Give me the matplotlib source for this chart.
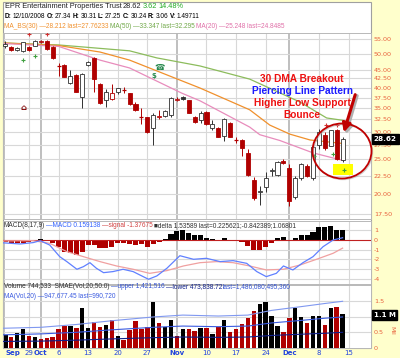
import matplotlib
matplotlib.use('Agg')
import matplotlib.pyplot as plt
from matplotlib.patches import Rectangle, Ellipse
from matplotlib import font_manager as fm

plt.rcParams['axes.unicode_minus'] = False

# ---------------- data ----------------
opens = [52.4, 52.3, 51.1, 50.8, 52.3, 52.7, 53.8, 54.4, 52.3, 46.3,
         46.4, 41.3, 43.4, 37.6, 46.3, 48.5, 40.9, 36.8, 37.2, 39.0,
         39.4, 38.5, 36.0, 33.1, 32.9, 30.7, 32.9, 33.2, 33.5, 36.9,
         37.6, 36.8, 33.0, 32.3, 34.2, 30.8, 30.75, 29.2, 31.8, 28.5,
         28.4, 26.1, 21.9, 20.2, 20.9, 23.2, 22.6, 24.8, 23.7, 19.6,
         22.1, 24.0, 22.1, 27.4, 29.4, 27.34, 30.3, 24.9]
highs = [54.2, 52.6, 52.3, 54.0, 52.5, 54.8, 54.5, 54.6, 52.4, 47.1,
         46.6, 44.9, 43.8, 44.0, 47.6, 49.0, 41.2, 39.7, 41.0, 39.9,
         40.3, 38.7, 36.5, 35.0, 33.0, 33.8, 34.5, 34.6, 37.6, 37.7,
         37.8, 37.0, 33.3, 34.3, 34.4, 32.4, 31.0, 32.8, 32.0, 28.9,
         28.6, 26.8, 22.3, 21.0, 23.0, 23.6, 24.8, 25.1, 24.2, 22.4,
         24.4, 24.2, 27.4, 30.6, 30.0, 30.31, 30.6, 28.9]
lows = [51.9, 50.8, 50.9, 50.5, 50.8, 52.4, 53.6, 51.3, 48.4, 43.3,
        42.8, 41.0, 38.8, 34.9, 46.0, 39.0, 35.9, 35.3, 37.0, 38.4,
        38.5, 35.8, 34.4, 31.6, 29.7, 27.5, 32.5, 33.0, 33.0, 36.6,
        36.9, 33.8, 31.8, 31.7, 31.4, 30.3, 28.9, 28.2, 28.9, 27.8,
        25.5, 22.4, 19.2, 18.5, 20.2, 22.5, 22.4, 24.3, 18.4, 19.3,
        21.9, 22.3, 21.9, 26.8, 26.6, 27.25, 24.9, 24.6]
closes = [53.4, 51.1, 52.0, 53.8, 51.1, 54.3, 54.2, 51.5, 48.6, 46.2,
          42.9, 43.1, 39.0, 43.8, 47.2, 42.4, 36.2, 38.9, 38.7, 39.9,
          39.3, 36.0, 34.6, 33.0, 29.9, 33.5, 33.3, 34.3, 37.4, 37.1,
          37.2, 33.9, 31.9, 33.9, 31.5, 31.6, 29.0, 32.6, 29.0, 28.4,
          26.9, 22.6, 19.4, 20.3, 22.2, 23.35, 24.6, 24.4, 19.0, 22.2,
          24.2, 22.5, 27.2, 30.0, 26.9, 30.24, 25.0, 28.62]

volume = [0.42, 0.36, 0.47, 0.60, 0.39, 0.36, 0.28, 0.33, 0.36, 0.60,
          0.70, 0.71, 0.64, 1.29, 0.64, 0.83, 0.68, 0.73, 0.89, 0.37,
          0.26, 0.58, 0.87, 0.60, 0.66, 1.48, 0.81, 0.68, 0.89, 0.39,
          0.61, 0.60, 0.55, 0.64, 0.65, 0.45, 0.67, 0.89, 0.51, 0.62,
          0.77, 0.97, 1.19, 1.41, 1.48, 1.02, 0.70, 0.50, 0.95, 1.27,
          0.99, 0.81, 1.02, 1.02, 0.72, 1.27, 1.30, 1.09]

macd_hist = [-0.17, -0.34, -0.34, -0.27, -0.17, -0.10, 0.07, -0.10, -0.34, -0.76,
             -1.20, -1.31, -1.55, -1.20, -0.52, -0.52, -0.86, -0.86, -0.69, -0.34,
             -0.34, -0.45, -0.52, -0.45, -0.76, -0.45, -0.17, 0.07, 0.58, 0.93,
             1.03, 0.69, 0.52, 0.52, 0.17, 0.10, 0.02, 0.17, -0.03, -0.05,
             -0.17, -0.58, -1.03, -1.03, -0.69, -0.27, 0.17, 0.34, -0.05, 0.17,
             0.52, 0.52, 0.86, 1.31, 1.37, 1.44, 1.03, 1.07]

# moving averages on the price panel (day index, price)
ma50_x = [-0.4, 9, 21, 25.6, 32.9, 41.3, 49.8, 54.3, 57]
ma50_y = [53.6, 52.9, 50.9, 48.6, 46.1, 42.3, 36.4, 32.8, 32.3]
ma30_x = [-0.4, 9, 16, 21, 32.9, 41.3, 44.7, 48.1, 51.5, 57]
ma30_y = [53.6, 52.7, 50.5, 47.9, 39.9, 34.6, 31.3, 29.5, 28.4, 27.76]
ma20_x = [-0.4, 9, 16, 21, 29.8, 32.9, 41.3, 43, 46.4, 52, 57]
ma20_y = [53.4, 52.4, 47.9, 45.5, 38.6, 36.7, 30.9, 29.4, 28.3, 26.1, 24.85]

# MACD line and signal (day index, value)
macd_x = [-0.9, 2.5, 4.7, 5.9, 7.5, 9.2, 10.4, 12.1, 13.2, 14.3, 15.4, 16.6,
          18.2, 19.9, 21.6, 23.3, 24.2, 25.6, 27.3, 29.5, 31.8, 34.0, 36.3,
          38.5, 40.8, 42.5, 44.1, 45.8, 47.0, 48.6, 50.3, 52.0, 53.7, 55.4, 57.0]
macd_v = [-0.27, -0.41, -0.27, -0.07, -0.52, -1.72, -2.23, -3.02, -2.75, -2.34,
          -2.92, -3.37, -3.26, -3.02, -3.26, -3.78, -4.05, -3.71, -2.92, -1.62,
          -1.99, -1.89, -2.23, -2.13, -2.41, -3.26, -3.78, -3.44, -2.68, -3.09,
          -2.34, -1.72, -0.69, 0.0, 0.23]
sig_x = [-0.9, 4.7, 7.5, 10.4, 13.2, 16.0, 18.8, 21.6, 24.4, 27.3, 30.1, 32.9,
         35.7, 38.5, 41.3, 44.1, 47.0, 49.8, 52.6, 55.4, 57.0]
sig_v = [-0.10, -0.07, -0.34, -1.20, -1.72, -2.23, -2.68, -3.02, -3.44, -3.16,
         -2.68, -2.34, -2.23, -2.34, -2.68, -3.09, -3.02, -2.58, -1.99, -1.37, -0.84]

# volume moving average and envelope (day index, millions)
vma_x = [-0.4, 6, 12, 18, 25, 30, 36, 41, 45, 50, 54, 57]
vma = [0.42, 0.45, 0.50, 0.58, 0.66, 0.70, 0.68, 0.70, 0.80, 0.88, 0.95, 0.99]
v_upper = [0.63, 0.66, 0.75, 0.87, 0.99, 1.05, 1.02, 1.05, 1.20, 1.32, 1.42, 1.49]
v_lower = [0.21, 0.22, 0.25, 0.29, 0.33, 0.35, 0.34, 0.35, 0.40, 0.44, 0.47, 0.50]

# x axis labels (day index, text, is month)
xlabels = [(-0.2, 'Sep', True), (4, '29', False), (6, 'Oct', True), (9, '6', False),
           (14, '13', False), (19, '20', False), (24, '27', False), (29, 'Nov', True),
           (34, '10', False), (39, '17', False), (44, '24', False), (48, 'Dec', True),
           (53, '8', False), (58, '15', False)]

price_ticks = [17.5, 20, 22.5, 25, 27.5, 30, 32.5, 35, 37.5, 40, 42.5, 45, 50, 55]
macd_ticks = [-4, -3, -2, -1, 0, 1]
vol_ticks = [0, 0.5, 1.0, 1.5]
vol_ticklabels = ['0', '0.5', '', '1.5']

# ---------------- style ----------------
W, H = 400, 358
BG = '#ffffcc'
RED = '#b00000'
AXLBL = '#e8603c'
GRID = '#d8d8d8'
MGRID = '#b4b4b4'

names = {f.name for f in fm.fontManager.ttflist}
if 'Liberation Sans Narrow' in names:
    HFONT, HSIZE = 'Liberation Sans Narrow', 5.4
else:
    HFONT, HSIZE = 'Liberation Sans', 4.7


def fx(px):
    return px / W


def fy(py):
    return 1 - py / H


fig = plt.figure(figsize=(W / 100, H / 100), dpi=100, facecolor=BG)
fig.patches.append(Rectangle((fx(3), fy(348)), 368 / W, 346 / H,
                             transform=fig.transFigure, facecolor='white',
                             edgecolor='#a0a0a0', lw=0.8, zorder=-1))

XMIN, XMAX = -0.39, 61.8
ax_p = fig.add_axes([fx(3), fy(219), 368 / W, (219 - 33) / H])
ax_m = fig.add_axes([fx(3), fy(284), 368 / W, (284 - 221) / H])
ax_v = fig.add_axes([fx(3), fy(348), 368 / W, (348 - 285) / H])

for ax in (ax_p, ax_m, ax_v):
    ax.set_facecolor('white')
    ax.set_xlim(XMIN, XMAX)
    for s in ax.spines.values():
        s.set_color('#b8b8b8')
        s.set_linewidth(0.7)
    ax.set_xticks([])
    ax.yaxis.tick_right()
    ax.tick_params(axis='y', length=0, pad=2, labelsize=4.6, labelcolor=AXLBL)
    for x, _, month in xlabels:
        ax.axvline(x, color=MGRID if month else GRID, lw=1.2 if month else 0.8, zorder=0)

# ---------------- price panel ----------------
ax_p.set_yscale('log')
ax_p.set_ylim(16.93, 57.2)
ax_p.yaxis.set_minor_locator(matplotlib.ticker.NullLocator())
ax_p.set_yticks(price_ticks)
ax_p.set_yticklabels(['%.2f' % t for t in price_ticks])
for t in price_ticks:
    ax_p.axhline(t, color=GRID, lw=0.8, zorder=0)

# yellow highlight under the last candle
ax_p.add_patch(Rectangle((fx(333), fy(175)), 20 / W, 11 / H,
                         transform=fig.transFigure, facecolor='#ffff00',
                         edgecolor='none', zorder=1))

bw = 0.68
for i in range(len(closes)):
    o, h, l, c = opens[i], highs[i], lows[i], closes[i]
    down = i > 0 and c < closes[i - 1]
    col = RED if down else '#303030'
    ax_p.vlines(i, l, h, color=col, lw=0.7, zorder=2)
    filled = c < o
    lo, hi = min(o, c), max(o, c)
    if hi / lo < 1.004:
        ax_p.hlines(c, i - bw / 2, i + bw / 2, color=col, lw=0.9, zorder=3)
    else:
        ax_p.add_patch(Rectangle((i - bw / 2, lo), bw, hi - lo,
                                 facecolor=col if filled else 'white',
                                 edgecolor=col, lw=0.6, zorder=3))

ax_p.plot(ma50_x, ma50_y, color='#8cbc5c', lw=0.9, zorder=1.5)
ax_p.plot(ma30_x, ma30_y, color='#f0902c', lw=0.9, zorder=1.5)
ax_p.plot(ma20_x, ma20_y, color='#e88cbc', lw=0.9, zorder=1.5)

# small pattern markers
ax_p.plot([3, 5, 52.1, 55.4, 57.2], [47.9, 49.3, 25.5, 25.9, 23.3], '+',
          color='#40a040', ms=3, mew=0.8, zorder=4)
ax_p.plot([4, 7, 54.2, 56], [56.8, 56.8, 31.4, 31.4], '+',
          color='#d03030', ms=3, mew=0.8, zorder=4)

# event icons
fig.text(fx(23), fy(108), '\u2302', color='#800000', fontsize=6, ha='center',
         va='center', family='DejaVu Sans', fontweight='bold')
fig.text(fx(160), fy(67), '\u260e', color='#2a8a50', fontsize=6, ha='center',
         va='center', family='DejaVu Sans')
fig.text(fx(154), fy(76), '$', color='#2a8a50', fontsize=5, ha='center',
         va='center', family='DejaVu Sans', fontweight='bold')

# ellipse and arrow
ax_p.add_patch(Ellipse((fx(343), fy(152)), 59 / W, 55 / H,
                       transform=fig.transFigure, facecolor='none',
                       edgecolor='#b0b0b0', lw=1.0, alpha=0.6, zorder=5,
                       clip_on=False))
ax_p.add_patch(Ellipse((fx(342), fy(151)), 59 / W, 55 / H,
                       transform=fig.transFigure, facecolor='none',
                       edgecolor='#c00000', lw=1.3, zorder=6, clip_on=False))
ax_p.annotate('', xy=(fx(345), fy(137)), xytext=(fx(358), fy(93)),
              xycoords='figure fraction', textcoords='figure fraction',
              arrowprops=dict(arrowstyle='-|>,head_length=0.5,head_width=0.25',
                              color='#b0b0b0', lw=2.2), zorder=5)
ax_p.annotate('', xy=(fx(343), fy(135)), xytext=(fx(356), fy(92)),
              xycoords='figure fraction', textcoords='figure fraction',
              arrowprops=dict(arrowstyle='-|>,head_length=0.5,head_width=0.25',
                              color='#c00000', lw=2.2), zorder=6)

for txt, col, yy in [('30 DMA Breakout', '#ee1111', 79),
                     ('Piercing Line Pattern', '#1a1aff', 91),
                     ('Higher Low Support', '#ee1111', 103),
                     ('Bounce', '#ee1111', 115)]:
    fig.text(fx(302), fy(yy), txt, color=col, fontsize=7.3, fontweight='bold',
             family='Liberation Sans', ha='center', va='center', zorder=7)

ax_p.annotate('28.62', xy=(1.0, 28.62), xycoords=('axes fraction', 'data'),
              xytext=(2, 0), textcoords='offset points', ha='left', va='center',
              fontsize=5.2, fontweight='bold', color='white',
              bbox=dict(boxstyle='square,pad=0.25', fc='black', ec='black'),
              annotation_clip=False)

# ---------------- MACD panel ----------------
ax_m.set_ylim(-4.54, 1.96)
ax_m.set_yticks(macd_ticks)
for t in macd_ticks:
    if t != 0:
        ax_m.axhline(t, color=GRID, lw=0.8, zorder=0)
ax_m.bar(range(len(macd_hist)), macd_hist, width=0.85,
         color=[RED if v < 0 else 'black' for v in macd_hist], zorder=2)
ax_m.axhline(0, color='#c02020', lw=0.8, zorder=3)
ax_m.plot(sig_x, sig_v, color='#f0a0a0', lw=0.9, zorder=4)
ax_m.plot(macd_x, macd_v, color='#6080ff', lw=0.9, zorder=4)

# ---------------- volume panel ----------------
ax_v.set_ylim(0, 2.01)
ax_v.set_yticks(vol_ticks)
ax_v.set_yticklabels(vol_ticklabels)
for t in vol_ticks[1:]:
    ax_v.axhline(t, color=GRID, lw=0.8, zorder=0)
vcols = ['black' if i == 0 or closes[i] >= closes[i - 1] else RED
         for i in range(len(volume))]
ax_v.bar(range(len(volume)), volume, width=0.75, color=vcols, zorder=2)
ax_v.plot(vma_x, v_upper, color='#8098f0', lw=0.8, zorder=3)
ax_v.plot(vma_x, vma, color='#3a5ae0', lw=0.8, zorder=3)
ax_v.plot(vma_x, v_lower, color='#10208a', lw=0.8, zorder=3)
ax_v.annotate('1.1 M', xy=(1.0, 1.06), xycoords=('axes fraction', 'data'),
              xytext=(2, 0), textcoords='offset points', ha='left', va='center',
              fontsize=5.0, fontweight='bold', color='white',
              bbox=dict(boxstyle='square,pad=0.25', fc='black', ec='black'),
              annotation_clip=False)
fig.text(fx(392), fy(330), 'Mil', rotation=270, color=AXLBL, fontsize=4.4,
         ha='center', va='center')

# x labels
for x, lab, month in xlabels:
    px = 5.3 + x * 5.92
    fig.text(fx(px + (1 if lab == 'Sep' else 0)), fy(353), lab,
             color='#2244dd', fontsize=5.0,
             fontweight='bold' if month else 'normal',
             ha='left' if lab == 'Sep' else 'center', va='center')

# ---------------- header texts ----------------
renderer = fig.canvas.get_renderer()


def text_run(x, y, parts, size=HSIZE):
    for s, c, bold in parts:
        t = fig.text(fx(x), fy(y), s, color=c, fontsize=size, family=HFONT,
                     fontweight='bold' if bold else 'normal', ha='left', va='center')
        x += t.get_window_extent(renderer).width + 1.2


text_run(5, 7, [('EPR Entertainment Properties Trust', '#202020', False),
                ('28.62', '#202020', False), ('3.62', '#22aa22', False),
                ('14.48%', '#22aa22', False)], size=HSIZE + 0.6)
text_run(5, 17, [('D:', 'black', True), ('12/10/2008', 'black', False),
                 ('O:', 'black', True), ('27.34', 'black', False),
                 ('H:', 'black', True), ('30.31', 'black', False),
                 ('L:', 'black', True), ('27.25', 'black', False),
                 ('C:', 'black', True), ('30.24', 'black', False),
                 ('R:', 'black', True), ('3.06', 'black', False),
                 ('V:', 'black', True), ('1.49711', 'black', False)])
text_run(4, 27, [('MA_BS(30) \u201428.212 last=27.76233', '#f0902c', False),
                 ('MA(50) \u201433.347 last=32.295', '#70a848', False),
                 ('MA(20) \u201425.248 last=24.8485', '#e070a8', False)])
text_run(4, 226, [('MACD(8,17,9)', '#303030', False),
                  ('\u2014MACD 0.159138', '#3060ff', False),
                  ('\u2014signal -1.37675', '#d04040', False),
                  ('\u25a0delta 1.53589 last=0.225621;-0.842389;1.06801', '#303030', False)])
text_run(4, 287, [('Volume 744,533  SMAE(Vol,20,50.0)', '#303030', False),
                  ('\u2014upper 1,421,516', '#3050d0', False),
                  ('\u2014lower 473,838.72', '#10208a', False),
                  ('last=1,486,080;495,360', '#3050d0', False)])
text_run(4, 296, [('MA(Vol,20) \u2014947,677.45 last=990,720', '#3a5ae0', False)])

fig.savefig('out.png', dpi=100, facecolor=BG)
